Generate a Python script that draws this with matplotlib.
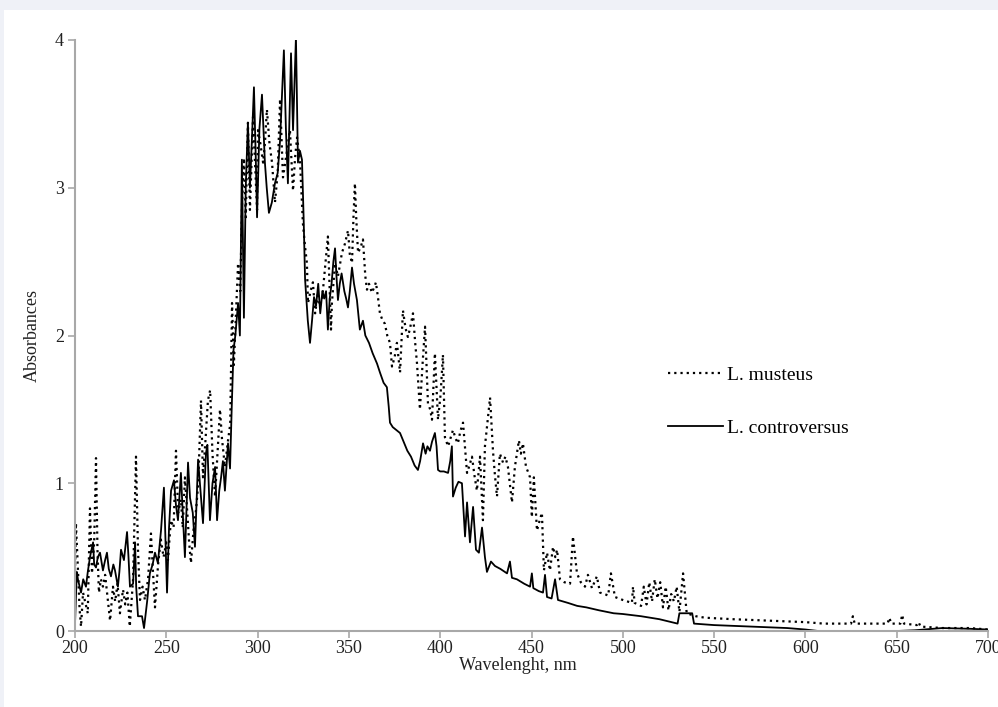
import matplotlib
matplotlib.use("Agg")
import matplotlib.pyplot as plt
from matplotlib.patches import Rectangle

# L. musteus (dotted line), wavelength nm / absorbance
musteus_wl = [200, 200.5, 201.5, 202.5, 203.3, 204.4, 205.5, 207, 208.2, 209.3, 210.5, 211.5, 212.3, 213.1,
              214.2, 215.3, 216.5, 218, 219.2, 220.8, 222, 223.3, 224.6, 226.3, 227.5, 228.7, 230, 231.8,
              233.4, 234.5, 235.6, 237, 238.3, 240, 241.6, 242.7, 243.8, 245.5, 247, 248.5, 250, 250.9,
              252.5, 254, 255.3, 256.5, 258, 259, 260.2, 261.5, 262.5, 263.5, 265, 266.3, 267.5, 269,
              270.1, 271.5, 272.8, 274, 275.3, 276.7, 278, 279.4, 280.5, 282.1, 283.8, 285, 286, 287,
              288, 289.3, 290.5, 291.5, 292.5, 293.5, 294.7, 295.8, 296.5, 297.5, 298.5, 299.7, 300.2,
              301.5, 303, 304, 305.1, 306.5, 307.9, 309.5, 311, 312.3, 313.9, 315.5, 317.7, 319.4, 320.5,
              321.6, 323.2, 324.8, 326, 327, 327.6, 329, 330.3, 331.5, 333.1, 334, 335.3, 336.5, 338.5,
              340.2, 340.7, 342.4, 344, 346.2, 347.8, 349.5, 350.5, 351.7, 352.5, 353.3, 354, 355, 356.5,
              357.7, 359, 359.9, 361, 362.6, 364, 364.8, 366, 367, 368.5, 369.7, 371, 372.5, 373.6, 375,
              376.3, 378, 379.6, 381, 382.3, 383.5, 385.1, 386.3, 387.3, 388.9, 390.3, 391.7, 392.5,
              393.3, 394.5, 395.5, 397.1, 398.8, 400.2, 401.5, 402.6, 404.3, 405.5, 407, 408.5, 409.7,
              411, 412.5, 414.7, 416, 417.4, 418.8, 420.1, 421.8, 423.4, 424.5, 425.8, 427.3, 428.9, 430,
              431.1, 432.7, 434.4, 435.7, 437.1, 439.3, 440.9, 443.1, 444.2, 445.3, 447, 448, 449.2,
              450.2, 451.3, 453, 454.5, 455.7, 456.8, 458.5, 460.1, 461.8, 463, 464, 465.6, 468, 471.1,
              472.7, 474.9, 477, 479.3, 480.9, 483.1, 485.8, 487.5, 490, 492, 493.5, 495.7, 500, 505,
              505.6, 506.5, 510, 511.5, 513, 514.5, 516, 517.5, 519, 520.5, 522, 523.5, 525, 526.5, 528,
              529.5, 531, 533, 535, 540, 545, 560, 580, 600, 610, 625, 626, 627, 645, 646, 647, 652, 653,
              654, 661, 662, 663, 675, 690, 700]
musteus_abs = [0.40, 0.73, 0.45, 0.15, 0.03, 0.26, 0.20, 0.12, 0.83, 0.39, 0.60, 1.17, 0.55, 0.26,
               0.35, 0.30, 0.38, 0.21, 0.07, 0.30, 0.20, 0.32, 0.12, 0.28, 0.18, 0.26, 0.03, 0.35,
               1.18, 0.55, 0.21, 0.30, 0.21, 0.35, 0.66, 0.40, 0.16, 0.45, 0.62, 0.50, 0.60, 0.48,
               0.75, 0.70, 1.22, 0.80, 0.89, 0.70, 1.04, 0.80, 0.60, 0.46, 0.70, 0.82, 1.00, 1.56,
               1.04, 1.30, 1.56, 1.63, 1.20, 0.91, 1.20, 1.50, 1.30, 1.11, 1.29, 1.40, 2.22, 1.80,
               2.10, 2.49, 2.30, 2.90, 3.20, 2.80, 3.44, 2.85, 3.10, 3.48, 3.20, 2.85, 3.39,
               3.30, 3.17, 3.30, 3.53, 3.30, 3.17, 2.90, 3.10, 3.60, 3.07, 3.20, 3.39, 2.98, 3.20,
               3.34, 3.19, 2.76, 2.60, 2.49, 2.22, 2.30, 2.36, 2.15, 2.29, 2.20, 2.24, 2.40, 2.67,
               2.04, 2.22, 2.49, 2.40, 2.56, 2.62, 2.71, 2.55, 2.49, 2.80, 3.03, 2.80, 2.56, 2.60,
               2.65, 2.40, 2.31, 2.35, 2.29, 2.33, 2.36, 2.25, 2.15, 2.10, 2.08, 2.00, 1.95, 1.79, 1.85,
               1.95, 1.75, 2.17, 2.05, 1.99, 2.05, 2.15, 1.95, 1.81, 1.50, 1.80, 2.06, 1.80,
               1.54, 1.50, 1.43, 1.88, 1.43, 1.60, 1.87, 1.31, 1.25, 1.30, 1.36, 1.30, 1.27,
               1.35, 1.41, 1.07, 1.12, 1.18, 1.05, 0.95, 1.18, 0.75, 1.25, 1.40, 1.58, 1.22, 1.05,
               0.91, 1.20, 1.14, 1.18, 1.11, 0.87, 1.11, 1.29, 1.20, 1.27, 1.11, 1.08, 1.04,
               0.77, 1.04, 0.68, 0.75, 0.80, 0.41, 0.53, 0.41, 0.57, 0.50, 0.55, 0.35, 0.33, 0.32,
               0.64, 0.39, 0.33, 0.30, 0.38, 0.29, 0.37, 0.26, 0.25, 0.24, 0.39, 0.23, 0.21, 0.19,
               0.30, 0.19, 0.17, 0.30, 0.18, 0.33, 0.20, 0.35, 0.22, 0.33, 0.16, 0.30, 0.14, 0.25, 0.20,
               0.30, 0.13, 0.39, 0.12, 0.10, 0.09, 0.08, 0.07, 0.06, 0.05, 0.05, 0.10, 0.05, 0.05, 0.09, 0.05, 0.05, 0.11,
               0.05, 0.04, 0.06, 0.03, 0.02, 0.02, 0.01]

# L. controversus (solid line)
contro_wl = [200, 201, 201.6, 203.3, 204.5, 206, 207, 208.2, 209.9, 210.5, 211.5, 212.5, 213.7, 215.3,
             216.5, 217.5, 218.5, 219.7, 221, 221.9, 223.5, 224.3, 225.2, 226.8, 228.5, 229.3, 230.1,
             231.8, 232.9, 233.5, 234.5, 236.7, 237.8, 239.5, 241, 242.5, 243.8, 245.4, 247.1, 248.7,
             250.4, 251.5, 252.6, 254.2, 255.3, 256.4, 258, 259, 260.2, 261.9, 263, 264.5, 265.7, 267.4,
             268.7, 270.1, 271.7, 272.5, 273.9, 275.3, 276.7, 277.8, 279, 280, 281, 282.1, 283.8, 284.9,
             285.8, 286.8, 287.8, 289.3, 290.3, 291.4, 292.5, 293.5, 294.7, 295.8, 296.8, 298, 299,
             299.7, 301, 302.4, 304, 305, 306.2, 307.8, 309.5, 311, 312.3, 314.4, 315.5, 316.6, 318.3,
             319.4, 321, 322.1, 323.2, 324.3, 325.2, 326, 327.5, 328.7, 329.8, 330.9, 332, 333.2, 334.3,
             335.5, 336.5, 337.5, 338.5, 339.5, 340.5, 341.5, 342.4, 343.2, 344, 345, 346, 347.5, 348.5,
             349.5, 350.5, 351.7, 352.8, 354.4, 356, 357.7, 359, 361, 363, 365.4, 367, 369, 370.8,
             371.8, 372.5, 374, 376, 378, 380, 382, 384, 386, 387.8, 389, 390.6, 392, 393, 394.4,
             395.5, 397.1, 398, 398.8, 400, 402, 404.3, 405.5, 406.4, 407, 408.5, 410, 411.9, 413.6,
             414.7, 416.3, 418, 419.6, 421.2, 422.9, 424.5, 425.6, 427.8, 430, 433, 436.6, 438.2,
             439.3, 442, 446, 449.2, 450.2, 451, 454, 456.3, 457.4, 458.5, 461, 462.9, 464.5, 470,
             475, 480, 487, 495, 500, 510, 520, 530, 531, 538, 539, 550, 560, 570, 580, 590, 600,
             607, 650, 660, 675, 690, 700]
contro_abs = [0.05, 0.40, 0.35, 0.26, 0.35, 0.30, 0.40, 0.50, 0.60, 0.45, 0.43, 0.50, 0.53, 0.41,
              0.48, 0.53, 0.42, 0.37, 0.45, 0.41, 0.30, 0.40, 0.55, 0.48, 0.67, 0.50, 0.30,
              0.32, 0.60, 0.30, 0.10, 0.10, 0.02, 0.20, 0.39, 0.45, 0.53, 0.46, 0.68, 0.97,
              0.26, 0.70, 0.95, 1.02, 0.85, 0.75, 1.07, 0.80, 0.50, 1.14, 0.90, 0.80, 0.57, 1.16,
              0.95, 0.73, 1.20, 1.26, 0.75, 1.00, 1.11, 0.75, 0.95, 1.04, 1.15, 0.95, 1.27, 1.10,
              1.50, 1.90, 2.00, 2.22, 2.00, 3.19, 2.12, 3.00, 3.44, 3.00, 3.30, 3.68, 3.20,
              2.80, 3.40, 3.63, 3.17, 3.00, 2.83, 2.90, 3.03, 3.10, 3.32, 3.93, 3.40, 3.03, 3.91,
              3.39, 4.02, 3.17, 3.25, 3.19, 2.80, 2.38, 2.10, 1.95, 2.10, 2.26, 2.20, 2.35, 2.15,
              2.30, 2.25, 2.30, 2.04, 2.25, 2.35, 2.50, 2.59, 2.40, 2.24, 2.35, 2.42, 2.30, 2.25,
              2.19, 2.30, 2.46, 2.35, 2.24, 2.04, 2.10, 2.00, 1.95, 1.88, 1.81, 1.75, 1.68, 1.65,
              1.52, 1.41, 1.38, 1.36, 1.34, 1.28, 1.22, 1.18, 1.12, 1.09, 1.15, 1.27, 1.20, 1.25, 1.22,
              1.28, 1.34, 1.25, 1.09, 1.08, 1.08, 1.07, 1.15, 1.25, 0.91, 0.97, 1.01, 1.00, 0.64,
              0.87, 0.60, 0.84, 0.55, 0.53, 0.70, 0.50, 0.40, 0.47, 0.44, 0.42, 0.39, 0.47,
              0.36, 0.35, 0.32, 0.30, 0.39, 0.29, 0.27, 0.26, 0.38, 0.23, 0.22, 0.35, 0.21, 0.19,
              0.17, 0.16, 0.14, 0.12, 0.115, 0.10, 0.08, 0.05, 0.12, 0.12, 0.05, 0.04, 0.035, 0.03, 0.025, 0.02, 0.01,
              0.0, 0.0, 0.005, 0.02, 0.015, 0.01]

plt.rcParams['font.family'] = ['Liberation Serif', 'DejaVu Serif']

fig = plt.figure(figsize=(9.98, 7.07), dpi=100)
fig.patch.set_facecolor('#eff1f7')
# white panel behind the chart
fig.add_artist(Rectangle((4 / 998, 0), 1, 1 - 10 / 707, transform=fig.transFigure,
                         facecolor='white', edgecolor='none', zorder=0))

ax = fig.add_axes([75 / 998, 1 - 631 / 707, 913 / 998, 591 / 707])
ax.set_facecolor('none')

ax.plot(musteus_wl, musteus_abs, color='black', lw=1.6, linestyle=(0, (1, 1.8)), label='L. musteus')
ax.plot(contro_wl, contro_abs, color='black', lw=1.3, label='L. controversus')

ax.set_xlim(200, 700)
ax.set_ylim(0, 4)
ax.set_xticks([200, 250, 300, 350, 400, 450, 500, 550, 600, 650, 700])
ax.set_yticks([0, 1, 2, 3, 4])

for s in ['top', 'right']:
    ax.spines[s].set_visible(False)
for s in ['left', 'bottom']:
    ax.spines[s].set_color('#a8a8a8')
    ax.spines[s].set_linewidth(1.5)
ax.tick_params(colors='#a8a8a8', length=5, width=1.2, labelsize=13, labelcolor='#222222')
ax.tick_params(axis='x', pad=1.5)
ax.tick_params(axis='y', pad=3)

ax.set_xlabel('Wavelenght, nm', fontsize=13, color='#222222', va='center')
ax.xaxis.set_label_coords((518 - 75) / 913, -35 / 591)
ax.set_ylabel('Absorbances', fontsize=13, color='#222222', va='center')
ax.yaxis.set_label_coords(-43 / 913, 0.5)

ax.legend(loc='upper left', bbox_to_anchor=(668 / 998, 1 - 366 / 707), bbox_transform=fig.transFigure,
          frameon=False, fontsize=14, handlelength=2.85, handletextpad=0.2, labelspacing=1.85,
          borderpad=0, borderaxespad=0)

fig.savefig('out.png', dpi=100, facecolor=fig.get_facecolor())
